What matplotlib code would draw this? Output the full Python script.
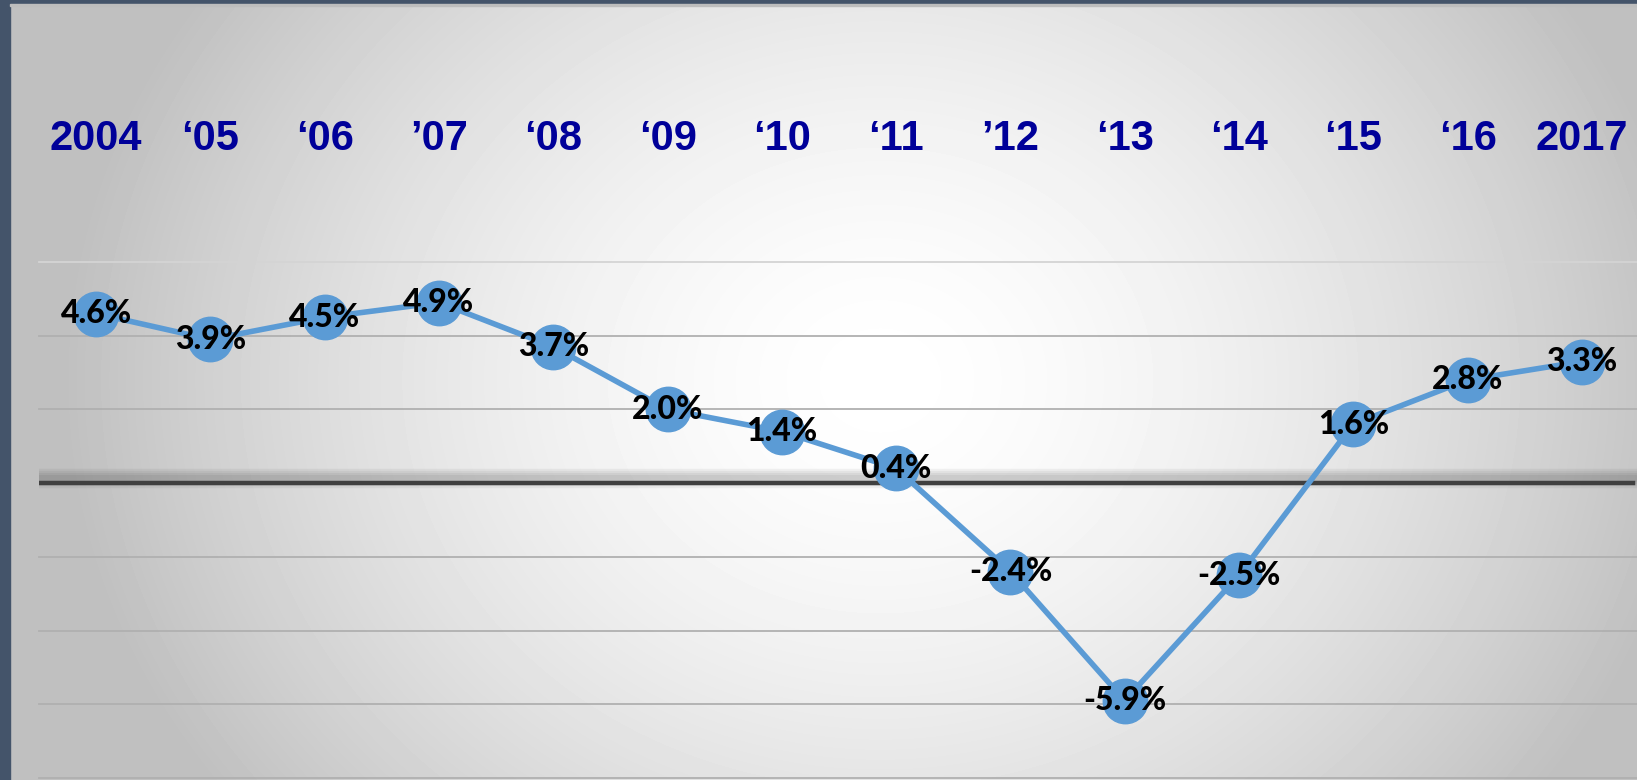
import numpy as np
import matplotlib
matplotlib.use("Agg")
import matplotlib.pyplot as plt
import matplotlib.patheffects as pe
from matplotlib.transforms import blended_transform_factory

years = ["2004", "\u201805", "\u201806", "\u201907", "\u201808", "\u201809", "\u201810",
         "\u201811", "\u201912", "\u201813", "\u201814", "\u201815", "\u201816", "2017"]
growth = [4.6, 3.9, 4.5, 4.9, 3.7, 2.0, 1.4, 0.4, -2.4, -5.9, -2.5, 1.6, 2.8, 3.3]
grid_levels = [6, 4, 2, -2, -4, -6, -8]

W, H = 1637, 780
fig = plt.figure(figsize=(W / 100, H / 100), dpi=100)

# slide background: radial grey gradient, light in the middle
bg = fig.add_axes([0, 0, 1, 1])
yy, xx = np.mgrid[0:H, 0:W]
r = np.sqrt(((xx - 880) / 820.0) ** 2 + ((yy - 380) / 700.0) ** 2)
shade = np.clip(1.0 - 0.25 * r ** 1.6, 0.75, 1.0)
bg.imshow(shade, cmap="gray", vmin=0, vmax=1, aspect="auto",
          extent=[0, W, H, 0], interpolation="bilinear")
bg.set_xlim(0, W)
bg.set_ylim(H, 0)
bg.axis("off")
# dark slide frame on left and top
bg.add_patch(plt.Rectangle((0, 0), 10, H, color="#44546a", zorder=3))
bg.add_patch(plt.Rectangle((0, 0), W, 4, color="#44546a", zorder=3))
bg.add_patch(plt.Rectangle((10, 4), W, 1.5, color="#bdbdbd", zorder=3))

# main chart area
left, right, top, bottom = 39, 1639, 262, 778
ax = fig.add_axes([left / W, (H - bottom) / H, (right - left) / W, (bottom - top) / H])
ax.patch.set_alpha(0)
x = np.arange(len(growth))
ax.set_xlim(-0.5, len(growth) - 0.5)
ax.set_ylim(-8, 6)

for g in grid_levels:
    ax.axhline(g, color="#b0b0b0" if g != 6 else "#d4d4d4", lw=1.3, zorder=1, clip_on=False)

shadow = [pe.SimpleLineShadow(offset=(0, 4), shadow_color="black", alpha=0.05, linewidth=w)
          for w in (14, 11, 8, 5)]
ax.axhline(0, color="#404040", lw=3.2, zorder=2, xmax=0.996,
           path_effects=shadow + [pe.Normal()])

ax.plot(x, growth, color="#5b9bd5", lw=4, marker="o", markersize=32,
        markerfacecolor="#5b9bd5", markeredgecolor="#5b9bd5", zorder=3, clip_on=False)

for xi, v in zip(x, growth):
    ax.text(xi, v, "%.1f%%" % v, ha="center", va="center", fontsize=23,
            fontweight=900, family=["Lato", "DejaVu Sans"], color="black", zorder=4)

tr = blended_transform_factory(ax.transData, fig.transFigure)
for xi, lab in zip(x, years):
    ax.text(xi, 1 - 139 / H, lab, transform=tr, ha="center", va="center",
            fontsize=30, fontweight="bold", family=["Liberation Sans", "DejaVu Sans"],
            color="#000099")

for s in ax.spines.values():
    s.set_visible(False)
ax.set_xticks([])
ax.set_yticks([])

fig.savefig("out.png", dpi=100)
